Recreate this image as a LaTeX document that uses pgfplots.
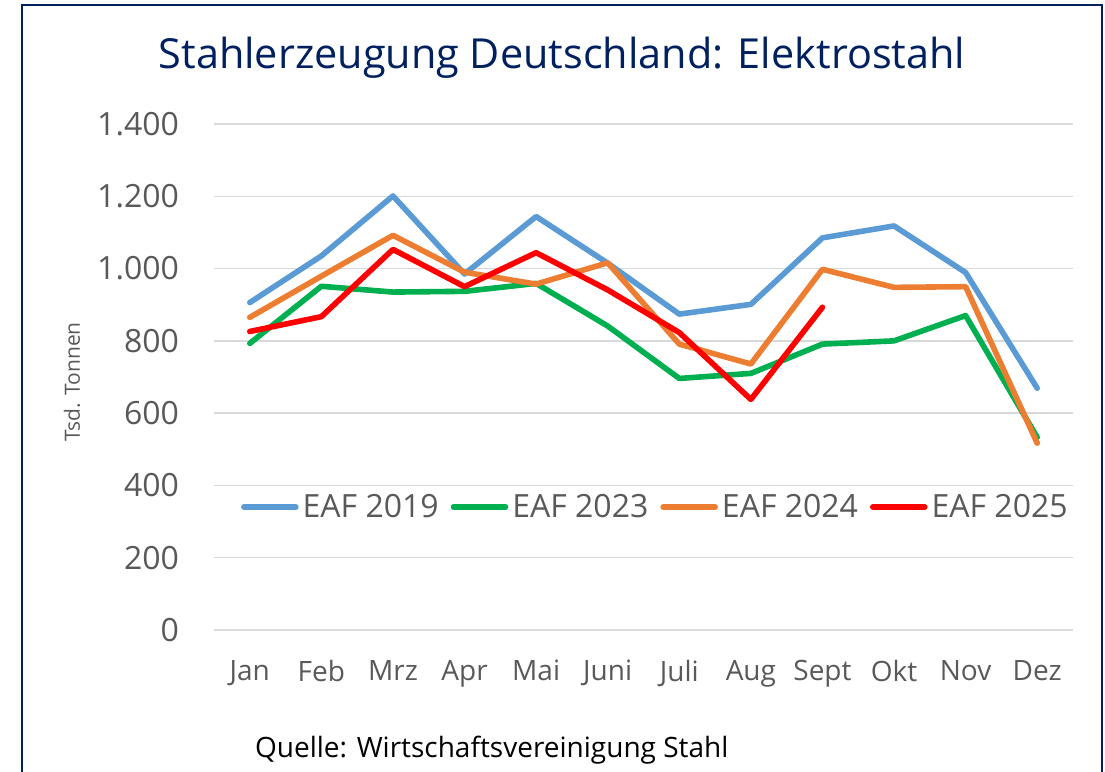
\documentclass[border=0pt]{standalone}
\usepackage{pgfplots}
\usepackage{pgfplotstable}
\pgfplotsset{compat=1.18}
\usepackage{fontspec}
\setmainfont{Open Sans}

\definecolor{navy}{HTML}{002060}
\definecolor{txt}{HTML}{595959}
\definecolor{gridc}{HTML}{D9D9D9}
\definecolor{c2019}{HTML}{5B9BD5}
\definecolor{c2023}{HTML}{00B050}
\definecolor{c2024}{HTML}{ED7D31}
\definecolor{c2025}{HTML}{FF0000}

% Tsd. Tonnen per month, months 0 = Jan ... 11 = Dez
\pgfplotstableread{
x  e2019  e2023  e2024  e2025
0   906    793    865    826
1  1035    951    979    867
2  1201    935   1092   1053
3   985    937    990    950
4  1144    959    957   1044
5  1015    841   1016    941
6   874    696    791    823
7   901    710    736    638
8  1085    791    998    893
9  1118    800    948    nan
10  989    870    950    nan
11  669    533    517    nan
}\steel

\begin{document}
\begin{tikzpicture}
\useasboundingbox (0pt,-386pt) rectangle (552.5pt,0pt);
\draw[navy, line width=0.9pt] (11pt,-430pt) rectangle (551pt,-2.5pt);
\node[navy, font=\fontsize{20.7}{24}\selectfont] at (281pt,-29pt)
  {Stahlerzeugung Deutschland: Elektrostahl};

\begin{axis}[
  at={(107pt,-315pt)}, anchor=south west,
  scale only axis, width=429.5pt, height=253pt,
  xmin=-0.5, xmax=11.5, ymin=0, ymax=1400,
  xtick={0,...,11},
  xticklabels={Jan,Feb,Mrz,Apr,Mai,Juni,Juli,Aug,Sept,Okt,Nov,Dez},
  ytick={0,200,...,1400},
  axis line style={draw=none},
  major tick length=0pt,
  ymajorgrids, grid style={draw=gridc, line width=0.75pt},
  /pgf/number format/.cd, 1000 sep={.}, assume math mode=true,
  /pgfplots/.cd,
  tick label style={text=txt, font=\fontsize{16}{19}\selectfont},
  yticklabel style={xshift=-14pt},
  xticklabel style={yshift=-11.5pt, font=\fontsize{14}{17}\selectfont},
  legend columns=4,
  legend style={at={(rel axis cs:0.515,0.243)}, anchor=center,
    draw=none, fill=none, text=txt, font=\fontsize{16}{19}\selectfont,
    /tikz/every even column/.append style={column sep=4pt}},
  legend image code/.code={\draw[#1, line width=2.8pt, line cap=round]
    (0pt,0pt) -- (26pt,0pt);},
  every axis plot/.append style={line width=2.8pt, line join=round, line cap=round, mark=none},
]
\addplot[c2019] table[x=x, y=e2019] {\steel};
\addlegendentry{EAF 2019}
\addplot[c2023] table[x=x, y=e2023] {\steel};
\addlegendentry{EAF 2023}
\addplot[c2024] table[x=x, y=e2024] {\steel};
\addlegendentry{EAF 2024}
\addplot[c2025] table[x=x, y=e2025] {\steel};
\addlegendentry{EAF 2025}
\end{axis}

\node[txt, rotate=90, font=\fontsize{10.5}{12}\selectfont] at (36pt,-191pt) {Tsd. Tonnen};
\node[anchor=west, font=\fontsize{14}{17}\selectfont] at (124pt,-375pt)
  {Quelle: Wirtschaftsvereinigung Stahl};
\end{tikzpicture}
\end{document}
